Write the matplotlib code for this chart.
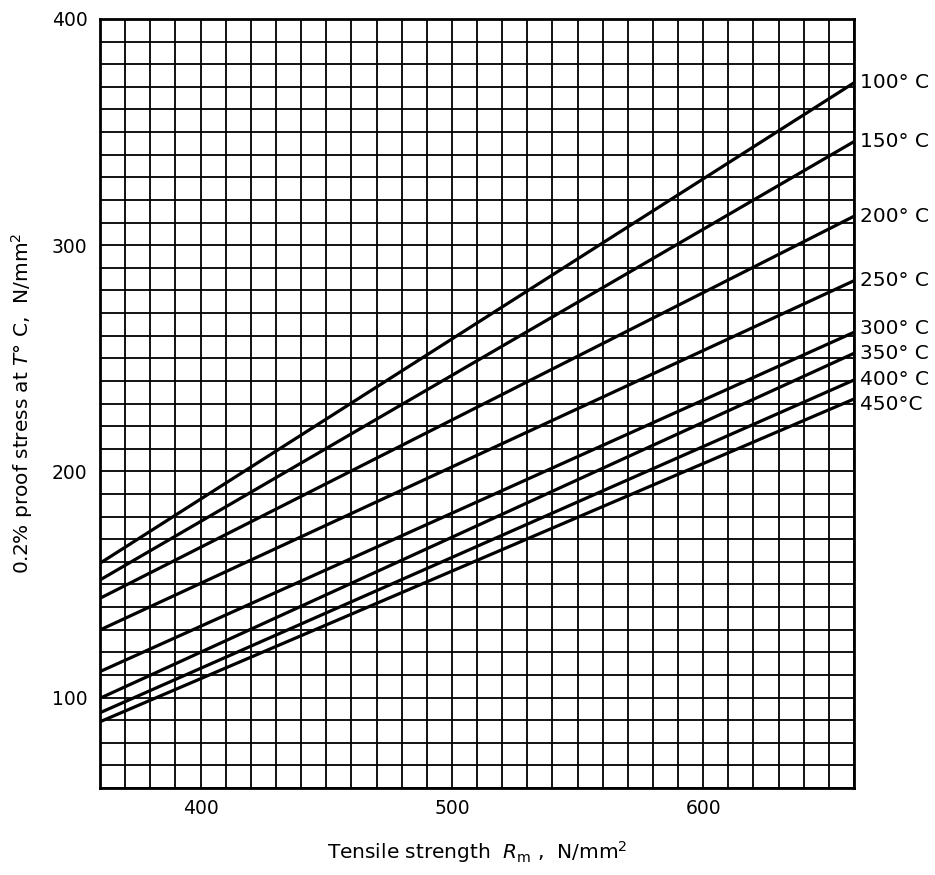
import matplotlib
matplotlib.use("Agg")
import matplotlib.pyplot as plt
import numpy as np

# tensile strength range (x) and proof stress at each end of the lines
rm_ends = [360, 660]
temps = ["100° C", "150° C", "200° C", "250° C", "300° C", "350° C", "400° C", "450°C"]
stress_at_360 = [159.4, 152.0, 143.9, 129.9, 111.5, 99.7, 93.3, 89.3]
stress_at_660 = [371.8, 345.8, 312.8, 284.3, 261.5, 252.2, 240.4, 232.0]

y_ticks = [100, 200, 300, 400]
x_ticks = [400, 500, 600]

plt.rcParams['font.family'] = ['DejaVu Sans']
plt.rcParams['mathtext.fontset'] = 'dejavusans'

fig = plt.figure(figsize=(9.35, 8.75), dpi=100)
ax = fig.add_axes([0.107, 0.0994, 0.8064, 0.8789])

ax.set_xlim(360, 660)
ax.set_ylim(60, 400)
ax.set_xticks(x_ticks)
ax.set_yticks(y_ticks)
ax.set_xticks(np.arange(360, 661, 10), minor=True)
ax.set_yticks(np.arange(60, 401, 10), minor=True)
ax.grid(which='both', color='black', linewidth=1.3)
ax.set_axisbelow(True)
ax.tick_params(which='both', length=0, labelsize=13.5)
ax.tick_params(axis='y', pad=9)
ax.tick_params(axis='x', pad=8)
for s in ax.spines.values():
    s.set_linewidth(2)

for lo, hi in zip(stress_at_360, stress_at_660):
    ax.plot(rm_ends, [lo, hi], color='black', linewidth=2.3, solid_capstyle='butt')

# small nudges so the crowded labels don't overlap
nudge = {4: 1.8, 7: -2.5}
for i, (t, hi) in enumerate(zip(temps, stress_at_660)):
    ax.annotate(t, xy=(660, hi + nudge.get(i, 0)), xytext=(4, 0),
                textcoords='offset points', va='center', ha='left',
                fontsize=14.5, annotation_clip=False)

ax.set_xlabel(r"Tensile strength  $R_\mathrm{m}$ ,  N/mm$^2$", fontsize=14.5, labelpad=15)
ax.set_ylabel(r"0.2% proof stress at $T$° C,  N/mm$^2$", fontsize=14.5, labelpad=12)

fig.savefig("out.png", dpi=100)
